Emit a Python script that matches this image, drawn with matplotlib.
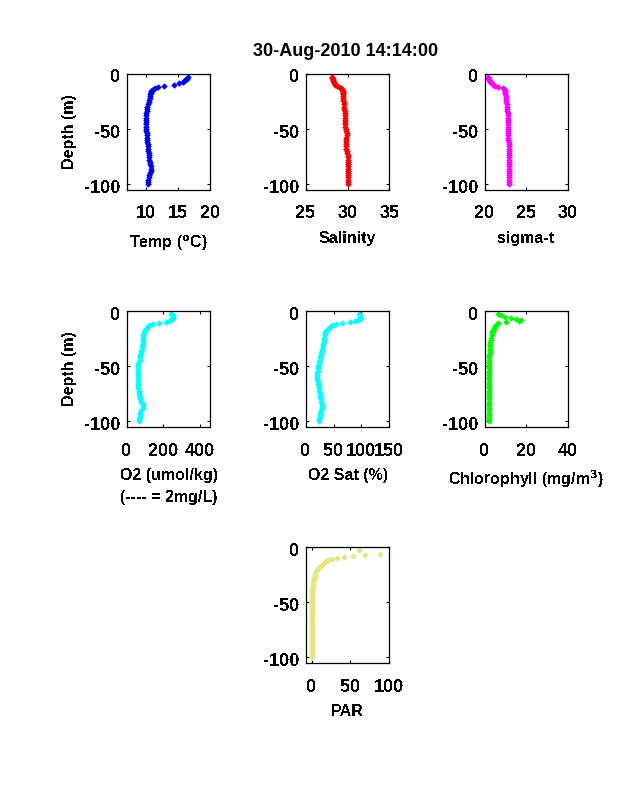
import matplotlib
matplotlib.use('Agg')
import matplotlib.pyplot as plt
from matplotlib.transforms import ScaledTranslation

plt.rcParams['font.family'] = ['Liberation Sans', 'DejaVu Sans']
plt.rcParams['font.weight'] = 'bold'
plt.rcParams['axes.labelweight'] = 'bold'
plt.rcParams['axes.unicode_minus'] = False
plt.rcParams['mathtext.default'] = 'bf'
plt.rcParams['text.antialiased'] = False

nan = float('nan')

# depth of each sample (m), the profile values below share it
depth = [3, 4, 5, 6, 7, 8, 9, 10, 11, 12, 13, 14, 15, 16, 17, 18, 19, 20,
         22, 24, 26, 28, 30, 32, 34, 36, 38, 40, 42, 44, 46, 48, 50, 52, 54,
         56, 58, 60, 62, 64, 66, 68, 70, 72, 74, 76, 78, 80, 82, 84, 86, 88,
         90, 92, 94, 96, 98, 100]

temp = [16.5, 16.4, 16.3, 16.1, 15.9, 15.7, 15.1, 14.3, 12.8, 11.8, 11.4, 11.2, 11.0, 10.85, 10.8, 10.75, 10.7, 10.65,
        10.55, 10.45, 10.4, 10.3, 10.2, 10.15, 10.1, 10.05, 10.0, 10.0, 10.0, 10.0, 10.0, 10.0, 10.0, 10.05, 10.1,
        10.1, 10.15, 10.2, 10.2, 10.25, 10.3, 10.35, 10.35, 10.4, 10.4, 10.45, 10.5, 10.55, 10.65, 10.75, 10.8, 10.8,
        10.7, 10.5, 10.4, 10.35, 10.3, 10.25]
salinity = [28.2, 28.2, 28.25, 28.3, 28.3, 28.35, 28.4, 28.5, 28.7, 29.0, 29.2, 29.3, 29.4, 29.42, 29.45, 29.45, 29.47, 29.48,
            29.5, 29.5, 29.55, 29.55, 29.6, 29.6, 29.7, 29.75, 29.75, 29.75, 29.75, 29.72, 29.75, 29.75, 29.78, 29.8, 29.9,
            29.9, 29.88, 29.85, 29.85, 29.85, 29.85, 29.88, 29.9, 29.95, 30.0, 30.0, 30.0, 30.0, 30.0, 30.0, 30.0, 30.0,
            30.0, 30.0, 30.0, 30.0, 30.0, 30.0]
sigma_t = [20.4, 20.4, 20.5, 20.5, 20.6, 20.7, 20.85, 21.0, 21.3, 21.6, 22.2, 22.3, 22.4, 22.45, 22.47, 22.5, 22.5, 22.52,
           22.55, 22.55, 22.6, 22.65, 22.7, 22.72, 22.75, 22.8, 22.8, 22.8, 22.8, 22.8, 22.8, 22.8, 22.8, 22.8, 22.8,
           22.82, 22.85, 22.87, 22.9, 22.9, 22.9, 22.9, 22.9, 22.9, 22.9, 22.9, 22.9, 22.9, 22.9, 22.9, 22.9, 22.9,
           22.9, 22.9, 22.9, 22.9, 22.9, 22.9]
o2 = [240, 250, 253, 253, 248, 240, 232, 212, 176, 145, 125, 118, 110, 104, 100, 98, 96, 94,
      91, 90, 89, 88, 87, 85, 83, 80, 76, 74, 72, 70, 67, 64, 62, 61, 60,
      60, 60, 60, 60, 61, 62, 63, 64, 65, 67, 69, 71, 75, 80, 87, 88, 86,
      80, 73, 72, 70, 69, 68]
o2_sat = [95, 97, 98, 98.6, 97, 93, 89, 80, 66, 54, 49, 45, 42, 40, 38, 36.5, 35.5, 35,
          34, 33, 32.5, 32, 31.5, 30.5, 30, 29, 28, 27, 26, 25, 24, 23, 22, 21.5, 21.5,
          21, 21, 21, 21, 21.5, 22, 23, 24, 24.5, 25, 25.5, 26, 27, 28, 30, 30, 29,
          27, 26, 25.5, 25, 24.5, 24.5]
chl = [6.5, 8, 10, 12.5, 15, 17.5, 16.5, 10.5, 6.5, 6, 5.5, 5, 4.7, 4.5, 4.2, 4, 3.8, 3.6,
       3.4, 3.1, 3, 2.8, 2.7, 2.6, 2.5, 2.4, 2.4, 2.3, 2.3, 2.3, 2.3, 2.3, 2.3, 2.3, 2.3,
       2.3, 2.3, 2.3, 2.3, 2.3, 2.3, 2.3, 2.3, 2.3, 2.3, 2.3, 2.3, 2.3, 2.3, 2.3, 2.3, 2.3,
       2.3, 2.3, 2.3, 2.3, 2.3, 2.3]
par = [61, nan, nan, 88, 69, 53.6, 41, 33, 26.6, 21.5, 18.5, 17, 14.5, 13, 11.6, 10, 8.8, 7.8,
       6, 4.8, 3.7, 3, 2.6, 2.2, 2.1, 1.6, 0.8, 0.5, 0.5, 0.5, 0.5, 0.5, 0.5, 0.5, 0.5,
       0.5, 0.5, 0.5, 0.5, 0.5, 0.5, 0.5, 0.5, 0.5, 0.5, 0.5, 0.5, 0.5, 0.5, 0.5, 0.5, 0.5,
       0.5, 0.5, 0.5, 0.5, 0.5, 0.5]

W, H = 638, 788


def add_panel(left, top, values, color, xlim, xticks, xlabel, ylabel=False, labelpad=6):
    ax = fig.add_axes([left / W, 1 - (top + 116) / H, 83.6 / W, 116 / H])
    ax.plot(values, [-d for d in depth], ls='none', marker='D', ms=3.3, mew=0, color=color)
    ax.set_xlim(xlim)
    ax.set_ylim(-105, 0)
    ax.set_xticks(xticks)
    ax.set_yticks([-100, -50, 0])
    ax.tick_params(direction='in', top=True, right=True, length=2.5, width=0.8, labelsize=13)
    ax.tick_params(axis='x', pad=11.5)
    ax.tick_params(axis='y', pad=4.5)
    # y tick labels sit a little below their ticks in the original
    shift = ScaledTranslation(0, -2.5 / 100, fig.dpi_scale_trans)
    for lab in ax.get_yticklabels():
        lab.set_transform(lab.get_transform() + shift)
    for s in ax.spines.values():
        s.set_linewidth(0.9)
    ax.set_xlabel(xlabel, fontsize=11.5, labelpad=labelpad, linespacing=1.55)
    if ylabel:
        ax.set_ylabel('Depth (m)', fontsize=11.5, labelpad=5)
    return ax


fig = plt.figure(figsize=(W / 100, H / 100), dpi=100)

add_panel(126.7, 73.5, temp, '#0000ff', (7, 20), [10, 15, 20], 'Temp ($^{o}$C)', ylabel=True, labelpad=8)
add_panel(305.7, 73.5, salinity, '#ff0000', (25, 35), [25, 30, 35], 'Salinity')
add_panel(484.5, 73.5, sigma_t, '#ff00ff', (20, 30), [20, 25, 30], 'sigma-t')
add_panel(126.7, 311, o2, '#00ffff', (0, 455), [0, 200, 400], 'O2 (umol/kg)\n(---- = 2mg/L)', ylabel=True)
add_panel(305.7, 311, o2_sat, '#00ffff', (0, 150), [0, 50, 100, 150], 'O2 Sat (%)')
add_panel(484.5, 311, chl, '#00ff00', (0, 40), [0, 20, 40], 'Chlorophyll (mg/m$^{3}$)')
add_panel(305.7, 547, par, '#e6e680', (-7.7, 100), [0, 50, 100], 'PAR')

fig.text(345.5 / W, 1 - 52 / H, '30-Aug-2010 14:14:00', ha='center', va='center',
         fontsize=13, fontweight='bold', antialiased=True)

fig.savefig('out.png', dpi=100)
